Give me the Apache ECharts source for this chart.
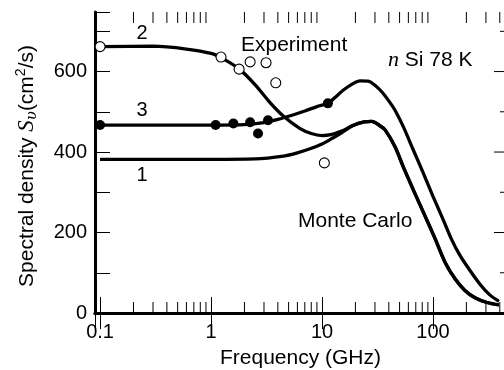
<!DOCTYPE html>
<html><head><meta charset="utf-8">
<script src="https://cdn.jsdelivr.net/npm/echarts@6/dist/echarts.min.js"></script>
<style>html,body{margin:0;padding:0;background:#fff}#c{width:504px;height:370px}</style>
</head><body><div id="c"></div>
<script>
// ---- data (frequency GHz, spectral density cm^2/s) ----
const curve1 = [[0.1,382],[1,382],[2.5,383],[4.5,390],[6,398],[7.8,408],[10,420],[12,432],[15,448],[19,466],[24,475],[28,476],[33,466],[37,455],[45.5,413],[54,363],[66.5,306],[82,250],[104,186],[128,127],[158,85],[194,56],[239,38],[307,26],[393,20]];
const curve2 = [[0.1,662],[0.3,663],[0.6,656],[1,645],[1.3,631],[1.8,606],[2.5,567],[3.4,523],[4.5,489],[6.3,459],[8,446],[10,441],[12,443],[15,452],[19,466],[24,475],[28,476],[33,466],[37,455],[45.5,413],[54,363],[66.5,306],[82,250],[104,186],[128,127],[158,85],[194,56],[239,38],[307,26],[393,20]];
const curve3 = [[0.1,467],[0.5,467],[1,467],[2,468],[3,473],[4,481],[5,489],[7,502],[9,513],[11.3,521],[13,535],[15.6,554],[19,570],[22,577],[26,576],[30,566],[35,548],[40,527],[45.5,504],[54,463],[66.5,405],[82,347],[100,290],[124,231],[147,183],[175,143],[215,106],[266,71],[325,45],[393,29]];
const openCircles = [[0.1,662],[1.23,636],[1.79,606],[2.25,624],[3.13,622],[3.83,572],[10.5,373]];
const filledCircles = [[0.1,467],[1.1,467],[1.59,471],[2.25,474],[3.26,479],[2.65,446],[11.3,521]];
const xMinorTicks = [0.2,0.3,0.4,0.5,0.6,0.7,0.8,0.9,2,3,4,5,6,7,8,9,20,30,40,50,60,70,80,90,200,300,400];
const yRightTicks = [100,200,300,400,500,600,700];
const X_MIN = 0.09, X_MAX = 455, Y_MIN = 0, Y_MAX = 748;

const FONT = '"Liberation Sans", Arial, Helvetica, sans-serif';
const SERIF = '"DejaVu Serif", "Liberation Serif", serif';
const chart = echarts.init(document.getElementById('c'), null, {renderer:'canvas'});

const lineSeries = (data) => ({
  type:'line', data, smooth:0.3, showSymbol:false, symbol:'none',
  lineStyle:{color:'#000', width:3.3}, z:2, silent:true, animation:false, clip:false
});

chart.setOption({
  animation:false,
  backgroundColor:'#fff',
  grid:{left:95, right:-2, top:12, bottom:57, containLabel:false, outerBoundsMode:'none'},
  xAxis:[
    {type:'log', logBase:10, min:X_MIN, max:X_MAX, position:'bottom',
     axisLine:{lineStyle:{color:'#000', width:3}},
     axisTick:{inside:true, length:16, lineStyle:{color:'#000', width:1}},
     axisLabel:{color:'#000', fontSize:20, fontFamily:FONT, margin:9, showMinLabel:false, showMaxLabel:false,
       formatter:(v)=> String(+v.toPrecision(3))},
     splitLine:{show:false},
     name:'Frequency (GHz)', nameLocation:'middle', nameGap:35,
     nameTextStyle:{color:'#000', fontSize:21, fontFamily:FONT}},
    {type:'log', logBase:10, min:X_MIN, max:X_MAX, position:'top',
     axisLine:{lineStyle:{color:'#000', width:3}},
     axisTick:{inside:true, length:16, lineStyle:{color:'#000', width:1}},
     axisLabel:{show:false}, splitLine:{show:false}}
  ],
  yAxis:[
    {type:'value', min:Y_MIN, max:Y_MAX, interval:100, position:'left',
     axisLine:{show:true, lineStyle:{color:'#000', width:3}},
     axisTick:{inside:true, length:15, lineStyle:{color:'#000', width:1}},
     axisLabel:{color:'#000', fontSize:20, fontFamily:FONT, margin:8,
       formatter:(v)=> (v % 200 === 0 ? String(v) : '')},
     splitLine:{show:false}},
    {type:'value', min:Y_MIN, max:Y_MAX, interval:100, position:'right',
     axisLine:{show:true, lineStyle:{color:'#000', width:3}},
     axisTick:{show:false}, axisLabel:{show:false}, splitLine:{show:false}}
  ],
  series:[
    lineSeries(curve1), lineSeries(curve2), lineSeries(curve3),
    {type:'scatter', data:openCircles, symbol:'circle', symbolSize:10,
     itemStyle:{color:'#fff', borderColor:'#000', borderWidth:1.1, opacity:1}, z:4, silent:true},
    {type:'scatter', data:filledCircles, symbol:'circle', symbolSize:10,
     itemStyle:{color:'#000', opacity:1}, z:4, silent:true},
    {type:'custom', data:xMinorTicks.map(v=>[v, Y_MIN]), clip:false, silent:true, z:5,
     renderItem:(params, api)=>{
       const v = api.value(0);
       const b = api.coord([v, Y_MIN]);
       const t = api.coord([v, Y_MAX]);
       return {type:'group', children:[
         {type:'line', shape:{x1:b[0], y1:b[1]-11, x2:b[0], y2:b[1]}, style:{stroke:'#000', lineWidth:1}},
         {type:'line', shape:{x1:t[0], y1:t[1], x2:t[0], y2:t[1]+11}, style:{stroke:'#000', lineWidth:1}}
       ]};
     }},
    {type:'custom', data:yRightTicks.map(v=>[X_MAX, v]), clip:false, silent:true, z:5,
     renderItem:(params, api)=>{
       const v = api.value(1);
       const p = api.coord([X_MAX, v]);
       const len = (v % 200 === 0) ? 12 : 6;
       return {type:'line', shape:{x1:p[0], y1:p[1], x2:p[0]-len, y2:p[1]}, style:{stroke:'#000', lineWidth:1}};
     }}
  ],
  graphic:[
    {type:'text', x:142, y:33, style:{text:'2', font:'20px '+FONT, fill:'#000', textAlign:'center', textVerticalAlign:'middle'}},
    {type:'text', x:142, y:110, style:{text:'3', font:'20px '+FONT, fill:'#000', textAlign:'center', textVerticalAlign:'middle'}},
    {type:'text', x:142, y:175, style:{text:'1', font:'20px '+FONT, fill:'#000', textAlign:'center', textVerticalAlign:'middle'}},
    {type:'text', x:241, y:45, style:{text:'Experiment', font:'21px '+FONT, fill:'#000', textAlign:'left', textVerticalAlign:'middle'}},
    {type:'text', x:298, y:221, style:{text:'Monte Carlo', font:'21px '+FONT, fill:'#000', textAlign:'left', textVerticalAlign:'middle'}},
    {type:'text', x:388, y:60, style:{text:'{it|n}{n| Si 78 K}', textAlign:'left', textVerticalAlign:'middle',
      rich:{it:{fontFamily:'"Liberation Serif", serif', fontStyle:'italic', fontSize:22, fill:'#000', color:'#000'},
            n:{fontFamily:FONT, fontSize:21, fill:'#000', color:'#000'}}}},
    {type:'text', x:27, y:166, rotation:Math.PI/2,
     style:{text:'{n|Spectral density }{i|S}{s|υ}{n|(cm}{p|2}{n|/s)}', textAlign:'center', textVerticalAlign:'middle',
      rich:{n:{fontFamily:FONT, fontSize:21, color:'#000', fill:'#000', lineHeight:26},
            i:{fontFamily:'"Liberation Serif", serif', fontStyle:'italic', fontSize:23, color:'#000', fill:'#000', lineHeight:26},
            s:{fontFamily:SERIF, fontStyle:'italic', fontSize:15, color:'#000', fill:'#000', lineHeight:26, verticalAlign:'bottom'},
            p:{fontFamily:FONT, fontSize:14, color:'#000', fill:'#000', lineHeight:26, verticalAlign:'top'}}}}
  ]
});
</script></body></html>
